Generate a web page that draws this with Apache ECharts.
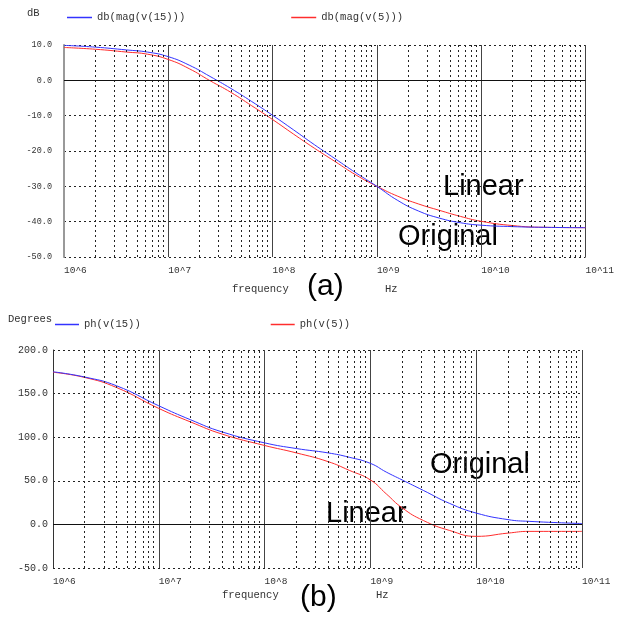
<!DOCTYPE html>
<html>
<head>
<meta charset="UTF-8">
<title>Bode plot</title>
<script src="https://cdn.jsdelivr.net/npm/echarts@6/dist/echarts.min.js"></script>
<style>
  html, body { margin: 0; padding: 0; background: #fff; }
  #chart { width: 617px; height: 620px; }
</style>
</head>
<body>
<div id="chart"></div>
<script>
// frequency as log10(Hz)
const magLogF = [6.0, 6.3, 6.6, 6.8, 7.0, 7.2, 7.4, 7.6, 7.8, 8.0, 8.2, 8.4, 8.6, 8.8, 9.0, 9.2, 9.4, 9.6, 9.8, 10.0, 10.3, 10.6, 11.0];
const magV15 = [9.9, 9.4, 8.6, 8.0, 6.7, 4.3, 1.1, -2.3, -6.0, -9.9, -14.0, -18.2, -22.2, -26.2, -30.0, -34.0, -37.0, -39.0, -40.3, -41.0, -41.4, -41.6, -41.7];
const magV5 = [9.3, 8.8, 8.0, 7.4, 5.9, 3.3, -0.1, -3.4, -7.2, -11.1, -15.2, -19.2, -23.0, -26.8, -30.0, -32.8, -35.0, -36.8, -38.5, -39.9, -41.1, -41.6, -41.7];

const phLogF = [6.0, 6.3, 6.6, 7.0, 7.3, 7.6, 8.0, 8.3, 8.6, 8.8, 9.0, 9.15, 9.3, 9.5, 9.75, 10.0, 10.3, 10.5, 11.0];
const phV15 = [175, 169, 159, 136, 120, 106, 93.5, 87, 82, 77, 70, 60, 51, 39, 24, 13, 5.5, 3.5, 1];
const phV5 = [174.5, 168.5, 157, 133, 117.5, 103.5, 90.5, 82, 72, 62, 51, 35, 19, 4.5, -7, -13.7, -10, -8, -8];

const decades = [6, 7, 8, 9, 10];
const minorMults = [2, 3, 4, 5, 6, 7, 8, 9];

const BLUE = '#3333ff';
const RED = '#ff2d2d';
const MONO = 'Liberation Mono';
const smallFont = '10.5px "Liberation Mono"';
const bigFont = '29px "Liberation Sans"';

function zip(xs, ys) { return xs.map((x, i) => [x, ys[i]]); }

// dotted minor grid at 2..9 x each decade, solid zero line
const minorLines = [];
decades.forEach(d => minorMults.forEach(k => minorLines.push({ xAxis: d + Math.log10(k) })));
function gridMarks() {
  return {
    silent: true,
    symbol: 'none',
    label: { show: false },
    animation: false,
    data: minorLines.map(m => Object.assign({}, m, { lineStyle: { color: '#222', type: [2, 3], width: 1 } }))
      .concat([{ yAxis: 0, lineStyle: { color: '#111', type: 'solid', width: 1 } }])
  };
}

function legendItem(name, color) {
  return { name: name, icon: 'rect', itemStyle: { color: color, borderWidth: 0 }, lineStyle: { color: color, width: 0 } };
}

function xAxisFor(gi) {
  return {
    type: 'value', gridIndex: gi, min: 6, max: 11, interval: 1,
    axisLine: { show: false }, axisTick: { show: false },
    splitLine: { show: true, lineStyle: { color: '#444', type: 'solid', width: 1 } },
    axisLabel: {
      formatter: v => '10^' + v, align: 'left', margin: 8,
      fontFamily: MONO, fontSize: 9.5, color: '#333'
    }
  };
}

const chart = echarts.init(document.getElementById('chart'), null, { renderer: 'canvas' });
chart.setOption({
  animation: false,
  backgroundColor: '#fff',
  grid: [
    { left: 64, right: 26, top: 45, height: 212 },
    { left: 53, right: 35, top: 350, height: 218 }
  ],
  legend: [
    {
      data: [legendItem('db(mag(v(15)))', BLUE), legendItem('db(mag(v(5)))', RED)],
      left: 62, top: 7, itemWidth: 25, itemHeight: 1.5, itemGap: 106,
      textStyle: { fontFamily: MONO, fontSize: 10.5, color: '#333' }
    },
    {
      data: [legendItem('ph(v(15))', BLUE), legendItem('ph(v(5))', RED)],
      left: 50, top: 314, itemWidth: 24, itemHeight: 1.5, itemGap: 130,
      textStyle: { fontFamily: MONO, fontSize: 10.5, color: '#333' }
    }
  ],
  xAxis: [xAxisFor(0), xAxisFor(1)],
  yAxis: [
    {
      type: 'value', gridIndex: 0, min: -50, max: 10, interval: 10,
      axisLine: { show: true, lineStyle: { color: '#999', width: 2 } }, axisTick: { show: false },
      splitLine: { lineStyle: { color: '#222', type: [2, 3], width: 1 } },
      axisLabel: { formatter: v => v.toFixed(1), margin: 12, fontFamily: MONO, fontSize: 8.5, color: '#333' }
    },
    {
      type: 'value', gridIndex: 1, min: -50, max: 200, interval: 50,
      axisLine: { show: true, lineStyle: { color: '#333', width: 1 } }, axisTick: { show: false },
      splitLine: { lineStyle: { color: '#222', type: [2, 3], width: 1 } },
      axisLabel: { formatter: v => v.toFixed(1), margin: 5, fontFamily: MONO, fontSize: 10, color: '#333' }
    }
  ],
  series: [
    { name: 'gridA', type: 'line', xAxisIndex: 0, yAxisIndex: 0, data: [], markLine: gridMarks() },
    { name: 'gridB', type: 'line', xAxisIndex: 1, yAxisIndex: 1, data: [], markLine: gridMarks() },
    {
      name: 'db(mag(v(5)))', type: 'line', xAxisIndex: 0, yAxisIndex: 0, data: zip(magLogF, magV5),
      smooth: true, showSymbol: false, color: RED, lineStyle: { color: RED, width: 1 }
    },
    {
      name: 'db(mag(v(15)))', type: 'line', xAxisIndex: 0, yAxisIndex: 0, data: zip(magLogF, magV15),
      smooth: true, showSymbol: false, color: BLUE, lineStyle: { color: BLUE, width: 1 }
    },
    {
      name: 'ph(v(5))', type: 'line', xAxisIndex: 1, yAxisIndex: 1, data: zip(phLogF, phV5),
      smooth: true, showSymbol: false, color: RED, lineStyle: { color: RED, width: 1 }
    },
    {
      name: 'ph(v(15))', type: 'line', xAxisIndex: 1, yAxisIndex: 1, data: zip(phLogF, phV15),
      smooth: true, showSymbol: false, color: BLUE, lineStyle: { color: BLUE, width: 1 }
    }
  ],
  graphic: [
    { type: 'text', left: 27, top: 8, style: { text: 'dB', font: smallFont, fill: '#333' } },
    { type: 'text', left: 8, top: 314, style: { text: 'Degrees', font: smallFont, fill: '#333' } },
    { type: 'text', left: 232, top: 284, style: { text: 'frequency', font: smallFont, fill: '#333' } },
    { type: 'text', left: 385, top: 284, style: { text: 'Hz', font: smallFont, fill: '#333' } },
    { type: 'text', left: 222, top: 590, style: { text: 'frequency', font: smallFont, fill: '#333' } },
    { type: 'text', left: 376, top: 590, style: { text: 'Hz', font: smallFont, fill: '#333' } },
    { type: 'text', left: 307, top: 272, style: { text: '(a)', font: '30px "Liberation Sans"', fill: '#000' } },
    { type: 'text', left: 300, top: 583, style: { text: '(b)', font: '30px "Liberation Sans"', fill: '#000' } },
    { type: 'text', left: 443, top: 172, style: { text: 'Linear', font: bigFont, fill: '#000' } },
    { type: 'text', left: 398, top: 222, style: { text: 'Original', font: bigFont, fill: '#000' } },
    { type: 'text', left: 430, top: 450, style: { text: 'Original', font: bigFont, fill: '#000' } },
    { type: 'text', left: 326, top: 499, style: { text: 'Linear', font: bigFont, fill: '#000' } }
  ]
});
</script>
</body>
</html>
